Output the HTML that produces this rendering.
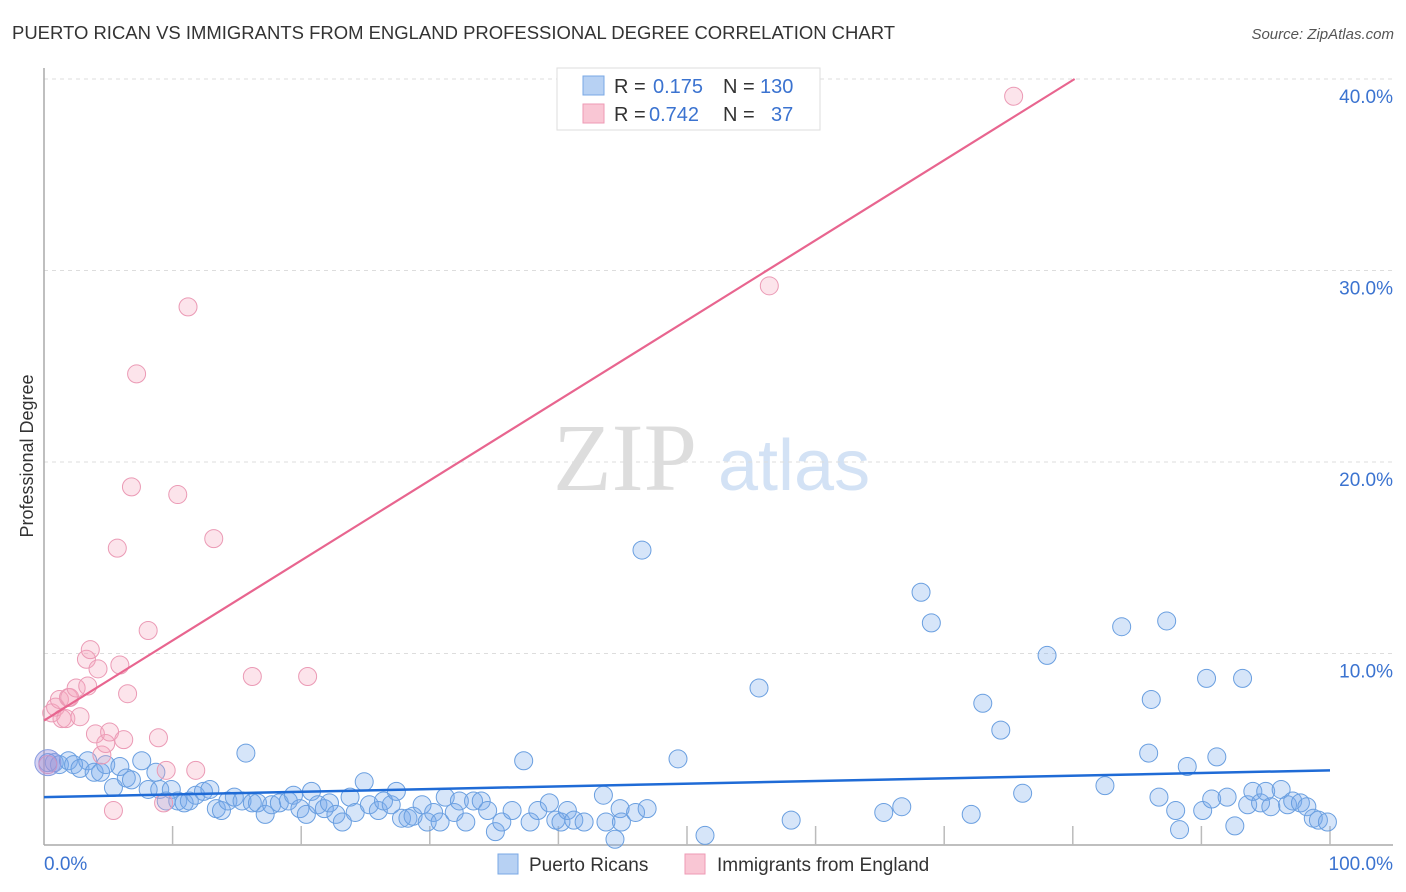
<!DOCTYPE html>
<html><head><meta charset="utf-8"><style>
body{margin:0;background:#fff;font-family:"Liberation Sans",sans-serif;}
svg{display:block}
</style></head><body>
<svg id="c" width="1406" height="892">
<text x="12" y="39" font-size="18" fill="#333" textLength="883" lengthAdjust="spacingAndGlyphs">PUERTO RICAN VS IMMIGRANTS FROM ENGLAND PROFESSIONAL DEGREE CORRELATION CHART</text>
<text x="1394" y="39" font-size="15" fill="#555" font-style="italic" text-anchor="end">Source: ZipAtlas.com</text>
<text transform="translate(33,456) rotate(-90)" font-size="18" fill="#333" text-anchor="middle">Professional Degree</text>
<g>
<text x="553" y="490" font-family="Liberation Serif,serif" font-size="96" fill="#ddd">ZIP</text>
<text x="718" y="490" font-size="72" fill="#d3e2f5">atlas</text>
</g>
<g id="grid"></g>
<g id="axes"></g>
<g id="pts"></g>
<g id="lines"></g>
<g>
<rect x="557" y="68" width="263" height="62" fill="#fff" stroke="#ddd"/>
<rect x="583" y="76" width="21" height="19" fill="#b7d1f3" stroke="#7aa8e6"/>
<rect x="583" y="104" width="21" height="19" fill="#f9c6d4" stroke="#ee9ab4"/>
<text x="614" y="93" font-size="20" fill="#333">R = <tspan fill="#3b73d0" x="653">0.175</tspan><tspan x="723" fill="#333">N = </tspan><tspan fill="#3b73d0" x="760">130</tspan></text>
<text x="614" y="121" font-size="20" fill="#333">R = <tspan fill="#3b73d0" x="649">0.742</tspan><tspan x="723" fill="#333">N = </tspan><tspan fill="#3b73d0" x="771">37</tspan></text>
</g>
<g>
<rect x="498" y="854" width="20" height="20" fill="#b7d1f3" stroke="#7aa8e6"/>
<text x="529" y="871" font-size="19" fill="#333">Puerto Ricans</text>
<rect x="685" y="854" width="20" height="20" fill="#f9c6d4" stroke="#ee9ab4"/>
<text x="717" y="871" font-size="19" fill="#333">Immigrants from England</text>
</g>
</svg>
<script>
const blueX=[0.3,0.8,1.2,1.9,2.3,2.8,3.4,3.9,4.4,4.8,5.4,5.9,6.4,6.8,7.6,8.1,8.7,9.0,9.5,9.9,10.4,10.9,11.3,11.8,12.4,12.9,13.4,13.8,14.3,14.8,15.4,15.7,16.2,16.6,17.2,17.7,18.3,19.0,19.4,19.9,20.4,20.8,21.3,21.8,22.2,22.7,23.2,23.8,24.2,24.9,25.3,26.0,26.4,27.0,27.4,27.8,28.3,28.7,29.4,29.8,30.3,30.8,31.2,31.9,32.3,32.8,33.4,34.0,34.5,35.1,35.6,36.4,37.3,37.8,38.4,39.3,39.8,40.2,40.7,41.2,42.0,43.5,43.7,44.4,44.8,44.9,46.0,46.5,46.9,49.3,51.4,55.6,58.1,65.3,66.7,68.2,69.0,72.1,73.0,74.4,76.1,78.0,82.5,83.8,85.9,86.1,86.7,87.3,88.0,88.3,88.9,90.1,90.4,90.8,91.2,92.0,92.6,93.2,93.6,94.0,94.6,95.0,95.4,96.2,96.7,97.1,97.7,98.2,98.7,99.1,99.8];
const blueY=[4.3,4.3,4.2,4.4,4.2,4.0,4.4,3.8,3.8,4.2,3.0,4.1,3.5,3.4,4.4,2.9,3.8,2.9,2.3,2.9,2.3,2.2,2.3,2.6,2.8,2.9,1.9,1.8,2.3,2.5,2.3,4.8,2.2,2.2,1.6,2.1,2.2,2.3,2.6,1.9,1.6,2.8,2.1,1.9,2.2,1.6,1.2,2.5,1.7,3.3,2.1,1.8,2.3,2.1,2.8,1.4,1.4,1.5,2.1,1.2,1.7,1.2,2.5,1.7,2.3,1.2,2.3,2.3,1.8,0.7,1.2,1.8,4.4,1.2,1.8,2.2,1.3,1.2,1.8,1.3,1.2,2.6,1.2,0.3,1.9,1.2,1.7,15.4,1.9,4.5,0.5,8.2,1.3,1.7,2.0,13.2,11.6,1.6,7.4,6.0,2.7,9.9,3.1,11.4,4.8,7.6,2.5,11.7,1.8,0.8,4.1,1.8,8.7,2.4,4.6,2.5,1.0,8.7,2.1,2.8,2.2,2.8,2.0,2.9,2.1,2.3,2.2,2.0,1.4,1.3,1.2];
const pinkX=[0.3,0.6,0.9,1.2,1.4,1.9,2.0,1.7,2.5,2.8,3.3,3.4,3.6,4.2,4.0,4.5,4.8,5.1,5.4,5.7,5.9,6.2,6.5,6.8,7.2,8.1,8.9,9.3,9.5,10.4,11.2,11.8,13.2,16.2,20.5,56.4,75.4];
const pinkY=[4.2,6.9,7.2,7.6,6.6,7.7,7.7,6.6,8.2,6.7,9.7,8.3,10.2,9.2,5.8,4.7,5.3,5.9,1.8,15.5,9.4,5.5,7.9,18.7,24.6,11.2,5.6,2.2,3.9,18.3,28.1,3.9,16.0,8.8,8.8,29.2,39.1];
const blueLine=[2.5,3.9];
const pinkLine=[6.5,0.418];
const yTicks=[10,20,30,40];
const yTickLabels=["10.0%","20.0%","30.0%","40.0%"];
const NS="http://www.w3.org/2000/svg";
const X0=44,X1=1330,Y0=845,YPER=19.15;
const sx=v=>X0+(X1-X0)*v/100, sy=v=>Y0-v*YPER;
function mk(t,a,p){const e=document.createElementNS(NS,t);for(const k in a)e.setAttribute(k,a[k]);p.appendChild(e);return e;}
const grid=document.getElementById('grid'),axes=document.getElementById('axes'),pts=document.getElementById('pts'),lines=document.getElementById('lines');
yTicks.forEach((t,i)=>{
 const g=mk('line',{x1:X0,x2:1393,y1:sy(t),y2:sy(t),stroke:'#ddd','stroke-dasharray':'4,4'},grid);
 
 
 const l=mk('text',{x:1393,y:sy(t)+24,'font-size':19,fill:'#3b73d0','text-anchor':'end'},axes);
 l.textContent=yTickLabels[i];
 
 
});
mk('line',{x1:X0,x2:X0,y1:68,y2:Y0,stroke:'#aaa','stroke-width':1.5},axes);
mk('line',{x1:X0,x2:1393,y1:Y0,y2:Y0,stroke:'#aaa','stroke-width':1.5},axes);
for(let i=1;i<=10;i++){mk('line',{x1:sx(i*10),x2:sx(i*10),y1:Y0,y2:Y0-19,stroke:'#bbb','stroke-width':1.5},axes);}
const xl0=mk('text',{x:44,y:870,'font-size':19,fill:'#3b73d0'},axes);xl0.textContent='0.0%';


const xl1=mk('text',{x:1393,y:870,'font-size':19,fill:'#3b73d0','text-anchor':'end'},axes);xl1.textContent='100.0%';


blueX.forEach((v,i)=>{
 const c=mk('circle',{cx:sx(v),cy:sy(blueY[i]),r:9,fill:'rgba(120,170,235,0.3)',stroke:'#6a9fe0','stroke-width':1},pts);
 
 
});
pinkX.forEach((v,i)=>{
 const c=mk('circle',{cx:sx(v),cy:sy(pinkY[i]),r:9,fill:'rgba(245,165,190,0.3)',stroke:'#eb9ab5','stroke-width':1},pts);
 
 
});
const big=mk('circle',{cx:sx(0.3),cy:sy(4.3),r:13,fill:'rgba(150,140,220,0.4)',stroke:'#8a9ee0'},pts);


const bl=mk('line',{x1:sx(0),y1:sy(blueLine[0]),x2:sx(100),y2:sy(blueLine[1]),stroke:'#1f6bd6','stroke-width':2.5},lines);


const xe=(40-pinkLine[0])/pinkLine[1];
const pl=mk('line',{x1:sx(0),y1:sy(pinkLine[0]),x2:sx(xe),y2:sy(40),stroke:'#e8658f','stroke-width':2.2},lines);


</script>
</body></html>
